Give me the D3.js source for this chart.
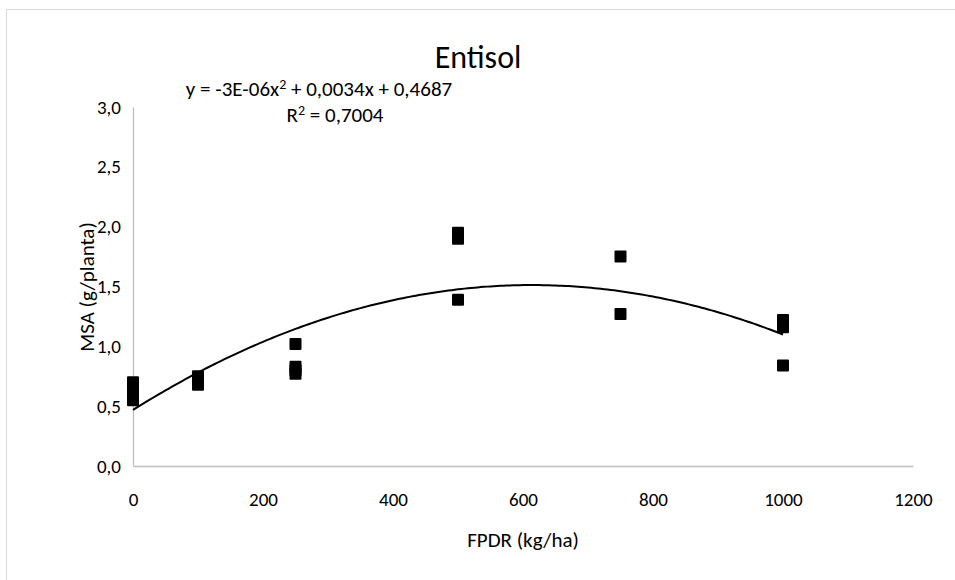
<!DOCTYPE html>
<html>
<head>
<meta charset="utf-8">
<script src="https://cdn.jsdelivr.net/npm/d3@7"></script>
<style>
  html, body { margin: 0; padding: 0; background: #fff; }
  svg { display: block; font-family: Calibri, Carlito, "Liberation Sans Narrow", "Open Sans", sans-serif; }
</style>
</head>
<body>
<svg id="chart" width="955" height="580"></svg>
<script>
// Observations: dose of FPDR (kg/ha) and shoot dry mass (g/planta)
const doses = [0, 0, 0, 0, 100, 100, 100, 250, 250, 250, 250, 500, 500, 500, 750, 750, 1000, 1000, 1000];
const msa   = [0.70, 0.65, 0.58, 0.55, 0.75, 0.72, 0.68, 1.02, 0.83, 0.80, 0.77, 1.95, 1.90, 1.39, 1.75, 1.27, 1.22, 1.16, 0.84];

// Quadratic trendline y = a x^2 + b x + c and its R^2
const trendCoef = [-2.77e-6, 0.0034, 0.4687];
const rSquared = 0.7004;

const xTicks = [0, 200, 400, 600, 800, 1000, 1200];
const yTicks = [0, 0.5, 1.0, 1.5, 2.0, 2.5, 3.0];

const svg = d3.select("#chart");
const plotLeft = 133, plotRight = 913, plotTop = 107, plotBottom = 466;
const fontStack = 'Calibri, Carlito, "Liberation Sans Narrow", "Open Sans", sans-serif';

const x = d3.scaleLinear().domain([0, 1200]).range([plotLeft, plotRight]);
const y = d3.scaleLinear().domain([0, 3]).range([plotBottom, plotTop]);

// Chart frame
svg.append("rect")
  .attr("x", 6.5).attr("y", 9.5)
  .attr("width", 960).attr("height", 580)
  .attr("fill", "#fff").attr("stroke", "#d9d9d9").attr("stroke-width", 1);

const comma = v => d3.format(".1f")(v).replace(".", ",");

// Axes
const xAxis = svg.append("g").attr("transform", `translate(0,${plotBottom})`)
  .call(d3.axisBottom(x).tickValues(xTicks).tickSize(0).tickPadding(27).tickFormat(d3.format("d")));
const yAxis = svg.append("g").attr("transform", `translate(${plotLeft},0)`)
  .call(d3.axisLeft(y).tickValues(yTicks).tickSize(0).tickPadding(12).tickFormat(comma));

[xAxis, yAxis].forEach(g => {
  g.select(".domain").attr("stroke", "#bfbfbf").attr("stroke-width", 1.3);
  g.selectAll("text").attr("font-size", 19).attr("fill", "#000").attr("font-family", fontStack);
});

// Trendline
const poly = t => trendCoef[0] * t * t + trendCoef[1] * t + trendCoef[2];
const curve = d3.range(0, 1000.1, 5).map(t => [t, poly(t)]);
svg.append("path")
  .datum(curve)
  .attr("fill", "none").attr("stroke", "#000").attr("stroke-width", 2)
  .attr("d", d3.line().x(d => x(d[0])).y(d => y(d[1])));

// Markers
const ms = 12;
svg.append("g").selectAll("rect")
  .data(doses.map((d, i) => [d, msa[i]]))
  .join("rect")
  .attr("x", d => x(d[0]) - ms / 2)
  .attr("y", d => y(d[1]) - ms / 2)
  .attr("width", ms).attr("height", ms)
  .attr("rx", 1)
  .attr("fill", "#000");

// Title
svg.append("text").attr("x", 478).attr("y", 68)
  .attr("text-anchor", "middle").attr("font-size", 32).text("Entisol");

// Axis titles
svg.append("text").attr("x", 523).attr("y", 547)
  .attr("text-anchor", "middle").attr("font-size", 21).text("FPDR (kg/ha)");
svg.append("text")
  .attr("transform", "translate(94,287) rotate(-90)")
  .attr("text-anchor", "middle").attr("font-size", 21).text("MSA (g/planta)");

// Equation label
const sci = v => {
  const [m, e] = v.toExponential(0).split("e");
  const ex = parseInt(e, 10);
  return m + "E" + (ex < 0 ? "-" : "+") + String(Math.abs(ex)).padStart(2, "0");
};
const dec4 = v => d3.format(".4f")(v).replace(".", ",");
const eq = svg.append("text").attr("x", 319).attr("y", 96)
  .attr("text-anchor", "middle").attr("font-size", 21);
eq.append("tspan").text(`y = ${sci(trendCoef[0])}x`);
eq.append("tspan").attr("font-size", 14).attr("dy", -7).text("2");
eq.append("tspan").attr("dy", 7).text(` + ${dec4(trendCoef[1])}x + ${dec4(trendCoef[2])}`);

const r2 = svg.append("text").attr("x", 335).attr("y", 122)
  .attr("text-anchor", "middle").attr("font-size", 21);
r2.append("tspan").text("R");
r2.append("tspan").attr("font-size", 14).attr("dy", -7).text("2");
r2.append("tspan").attr("dy", 7).text(` = ${dec4(rSquared)}`);
</script>
</body>
</html>
